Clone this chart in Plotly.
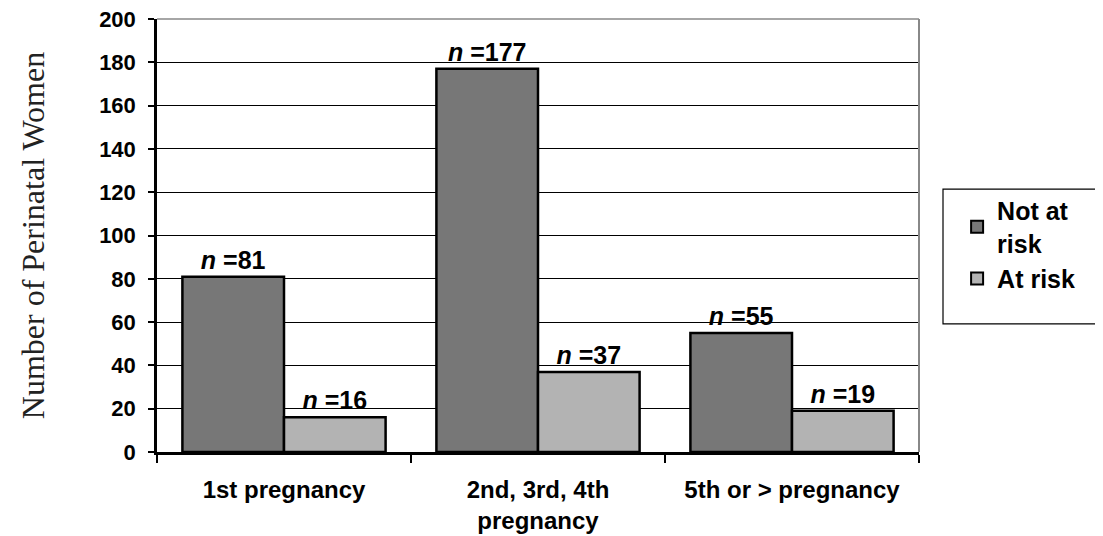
import plotly.graph_objects as go

categories = ["1st pregnancy", "2nd, 3rd, 4th<br>pregnancy", "5th or > pregnancy"]
not_at_risk = [81, 177, 55]
at_risk = [16, 37, 19]
y_ticks = [0, 20, 40, 60, 80, 100, 120, 140, 160, 180, 200]

SANS = "Liberation Sans, Arial, sans-serif"
SERIF = "Liberation Serif, Times New Roman, serif"

fig = go.Figure()
for name, vals, color in [
    ("Not at<br>risk", not_at_risk, "#777777"),
    ("At risk", at_risk, "#b3b3b3"),
]:
    fig.add_trace(go.Bar(
        x=categories, y=vals, name=name,
        marker=dict(color=color, line=dict(color="#000000", width=2.5)),
        texttemplate="<i>n</i> =%{y}",
        textposition="outside",
        textfont=dict(family=SANS, size=25, color="#000000", weight="bold"),
        cliponaxis=False,
    ))

# page body adds an 8px offset, so the figure is sized to fit inside the window
fig.update_layout(
    width=1095, height=528,
    margin=dict(l=149, r=184, t=11, b=84, autoexpand=False),
    paper_bgcolor="white", plot_bgcolor="white",
    barmode="group", bargap=0.2, bargroupgap=0,
    font=dict(family=SANS, color="#000000"),
    legend=dict(
        x=1.05, y=0.61, xanchor="left", yanchor="top",
        font=dict(family=SANS, size=25, color="#000000", weight="bold"),
        bgcolor="rgba(0,0,0,0)", borderwidth=0,
        itemsizing="constant", tracegroupgap=0, itemwidth=30,
    ),
    xaxis=dict(
        automargin=False,
        showline=True, linecolor="#000000", linewidth=3,
        ticks="outside", tickson="boundaries", ticklen=8, tickcolor="#000000",
        tickwidth=1.5, ticklabelstandoff=14,
        tickfont=dict(family=SANS, size=24, color="#000000", weight="bold"),
        showgrid=False,
    ),
    yaxis=dict(
        automargin=False,
        range=[0, 200], tickvals=y_ticks,
        showline=True, linecolor="#000000", linewidth=2.5,
        ticks="outside", ticklen=6, tickcolor="#000000", tickwidth=1.5,
        ticklabelstandoff=8, ticklabeloverflow="allow",
        tickfont=dict(family=SANS, size=22, color="#000000", weight="bold"),
        showgrid=True, gridcolor="#000000", gridwidth=1.3,
        zeroline=False,
        title=dict(text="Number of Perinatal Women", standoff=45,
                   font=dict(family=SERIF, size=32, color="#222222")),
    ),
    shapes=[
        dict(type="line", xref="paper", yref="paper", x0=1, x1=1, y0=0, y1=1,
             line=dict(color="#888888", width=2)),
        dict(type="line", xref="paper", yref="paper", x0=0, x1=1, y0=1, y1=1,
             line=dict(color="#888888", width=1.5)),
        dict(type="rect", xref="paper", yref="paper",
             x0=1.0315, x1=1.2395, y0=0.296, y1=0.607,
             line=dict(color="#000000", width=1.2)),
    ],
)

fig.write_html("out.html")
